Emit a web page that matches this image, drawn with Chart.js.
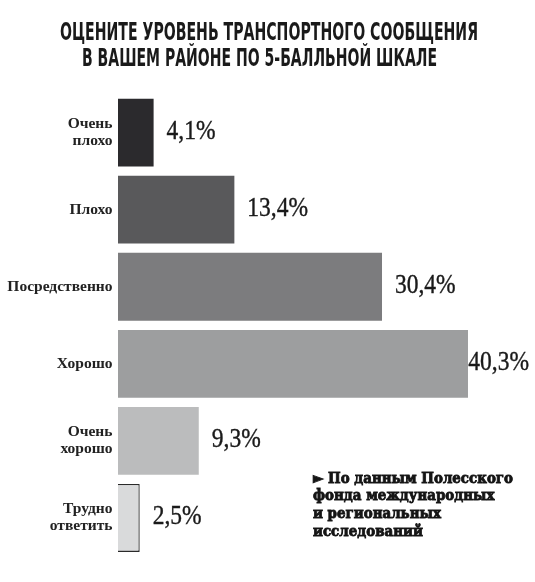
<!DOCTYPE html>
<html>
<head>
<meta charset="utf-8">
<script src="https://cdn.jsdelivr.net/npm/chart.js@4"></script>
<style>
  html, body { margin: 0; padding: 0; background: #fff; }
  #wrap { position: relative; width: 535px; height: 582px; overflow: hidden; }
  #chart { position: absolute; left: 0; top: 0; }
  .tline { position: absolute; white-space: nowrap; font-family: "DejaVu Sans", sans-serif; font-weight: bold;
           font-size: 25px; line-height: 1; color: #1a1a1a; transform-origin: 0 0; }
  #note { position: absolute; left: 313px; top: 469.5px; font-family: "DejaVu Serif", serif; font-weight: bold;
          font-size: 15px; line-height: 17.7px; color: #151515; white-space: nowrap;
          -webkit-text-stroke: 0.9px #151515; transform-origin: 0 0; }
</style>
</head>
<body>
<div id="wrap">
  <canvas id="chart" width="535" height="582"></canvas>
  <div class="tline" data-x="60" data-y="19" data-w="418">ОЦЕНИТЕ УРОВЕНЬ ТРАНСПОРТНОГО СООБЩЕНИЯ</div>
  <div class="tline" data-x="82" data-y="45" data-w="355">В ВАШЕМ РАЙОНЕ ПО 5-БАЛЛЬНОЙ ШКАЛЕ</div>
  <div id="note" data-w="200">► По данным Полесского<br>фонда международных<br>и региональных<br>исследований</div>
</div>
<script>
const categories = [['Очень', 'плохо'], 'Плохо', 'Посредственно', 'Хорошо', ['Очень', 'хорошо'], ['Трудно', 'ответить']];
const values = [4.1, 13.4, 30.4, 40.3, 9.3, 2.5];
const valueLabels = ['4,1%', '13,4%', '30,4%', '40,3%', '9,3%', '2,5%'];
const barColors = ['#2b2a2d', '#59595b', '#7c7c7e', '#9d9e9f', '#bbbcbd', '#d9dadb'];
const borderColors = ['#2b2a2d', '#59595b', '#7c7c7e', '#9d9e9f', '#bbbcbd', '#2a2a2a'];
const borderWidths = [0, 0, 0, 0, 0, 1.3];

// Fit text blocks horizontally (condensed look)
document.querySelectorAll('.tline').forEach(el => {
  const w = el.getBoundingClientRect().width;
  el.style.left = el.dataset.x + 'px';
  el.style.top = el.dataset.y + 'px';
  el.style.transform = 'scaleX(' + (parseFloat(el.dataset.w) / w) + ')';
});
(function () {
  const note = document.getElementById('note');
  const r = document.createRange();
  r.selectNodeContents(note.firstChild);
  const w = r.getBoundingClientRect().width;
  note.style.transform = 'scaleX(' + (parseFloat(note.dataset.w) / w) + ')';
})();

const valueLabelPlugin = {
  id: 'valueLabels',
  afterDatasetsDraw(chart) {
    const ctx = chart.ctx;
    const meta = chart.getDatasetMeta(0);
    const sx = 0.87;
    ctx.save();
    ctx.font = '27px "Liberation Serif", "DejaVu Serif", serif';
    ctx.fillStyle = '#1a1a1a';
    ctx.strokeStyle = '#1a1a1a';
    ctx.lineWidth = 0.4;
    ctx.textBaseline = 'alphabetic';
    ctx.textAlign = 'left';
    meta.data.forEach((bar, i) => {
      const txt = valueLabels[i];
      const w = ctx.measureText(txt).width * sx;
      const x = Math.min(bar.x + 13, 529 - w);
      ctx.save();
      ctx.translate(x, bar.y + 6);
      ctx.scale(sx, 1);
      ctx.fillText(txt, 0, 0);
      ctx.strokeText(txt, 0, 0);
      ctx.restore();
    });
    ctx.restore();
  }
};

new Chart(document.getElementById('chart'), {
  type: 'bar',
  data: {
    labels: categories,
    datasets: [{
      data: values,
      backgroundColor: barColors,
      borderColor: borderColors,
      borderWidth: borderWidths,
      barPercentage: 0.88,
      categoryPercentage: 1.0
    }]
  },
  options: {
    indexAxis: 'y',
    responsive: false,
    animation: false,
    layout: { padding: { top: 94, bottom: 25.5, left: 0, right: 26.2 } },
    plugins: { legend: { display: false }, tooltip: { enabled: false }, title: { display: false } },
    scales: {
      x: { display: false, min: 0, max: 45 },
      y: {
        afterFit(axis) { axis.width = 118; },
        grid: { display: false, drawTicks: false },
        border: { display: false },
        ticks: {
          padding: 5.5,
          color: '#222222',
          font: { family: '"Liberation Serif", "DejaVu Serif", serif', size: 15.5, weight: 'bold', lineHeight: 1.1 }
        }
      }
    }
  },
  plugins: [valueLabelPlugin]
});
</script>
</body>
</html>
